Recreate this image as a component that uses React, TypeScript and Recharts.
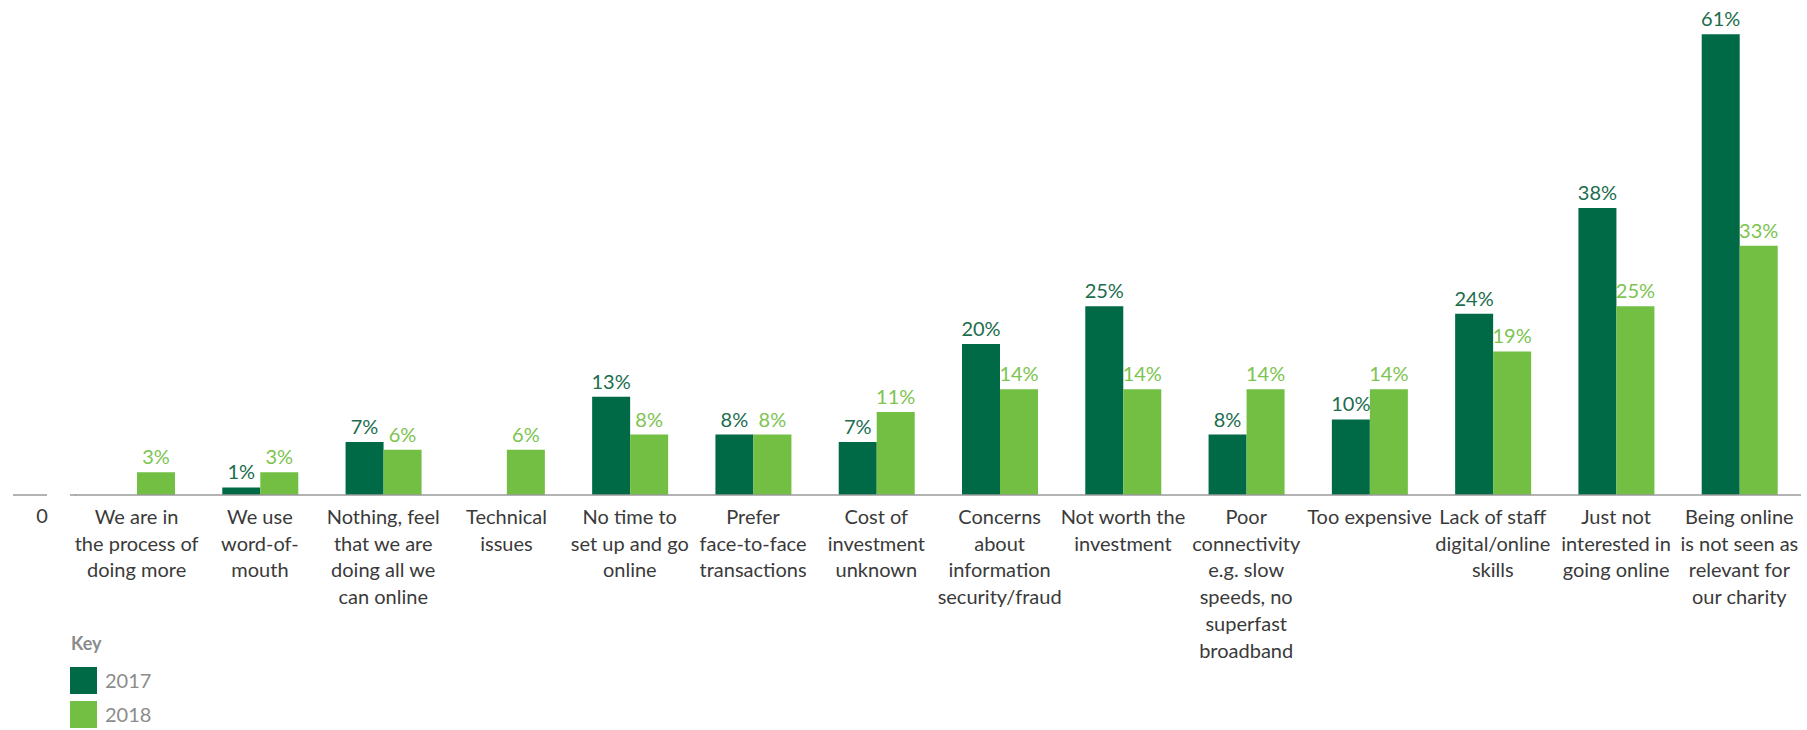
import React from 'react';
import { BarChart, Bar, XAxis, YAxis, LabelList, Legend } from 'recharts';

const categories: string[] = [
  'We are in\nthe process of\ndoing more',
  'We use\nword-of-\nmouth',
  'Nothing, feel\nthat we are\ndoing all we\ncan online',
  'Technical\nissues',
  'No time to\nset up and go\nonline',
  'Prefer\nface-to-face\ntransactions',
  'Cost of\ninvestment\nunknown',
  'Concerns\nabout\ninformation\nsecurity/fraud',
  'Not worth the\ninvestment',
  'Poor\nconnectivity\ne.g. slow\nspeeds, no\nsuperfast\nbroadband',
  'Too expensive',
  'Lack of staff\ndigital/online\nskills',
  'Just not\ninterested in\ngoing online',
  'Being online\nis not seen as\nrelevant for\nour charity',
];

const values2017: (number | null)[] = [null, 1, 7, null, 13, 8, 7, 20, 25, 8, 10, 24, 38, 61];
const values2018: (number | null)[] = [3, 3, 6, 6, 8, 8, 11, 14, 14, 14, 14, 19, 25, 33];

const seriesNames = ['2017', '2018'];
const yTicks = [0];

const DARK = '#006946';
const LIGHT = '#72bf44';
const DARK_LABEL = '#1b6d4e';
const LIGHT_LABEL = '#7cc44f';
const TEXT = '#3a3a3a';
const AXIS = '#9a9a9a';
const FONT = 'Lato, "Open Sans", sans-serif';

const data = categories.map((c, i) => ({
  name: c,
  y2017: values2017[i],
  y2018: values2018[i],
}));

const CategoryTick = (props: any) => {
  const { x, y, payload } = props;
  const lines = String(payload.value).split('\n');
  return (
    <text x={x} y={y} textAnchor="middle" fill={TEXT} fontSize={20} fontFamily={FONT}>
      {lines.map((ln, i) => (
        <tspan key={i} x={x} dy={i === 0 ? 524 - y : 26.7}>
          {ln}
        </tspan>
      ))}
    </text>
  );
};

const ValueTick = (props: any) => {
  const { y, payload } = props;
  return (
    <g>
      <line x1={13} x2={47} y1={y} y2={y} stroke={AXIS} strokeWidth={1.5} />
      <line x1={70} x2={76} y1={y} y2={y} stroke={AXIS} strokeWidth={1.5} />
      <text x={42} y={y + 28} textAnchor="middle" fill={TEXT} fontSize={20} fontFamily={FONT}>
        {payload.value}
      </text>
    </g>
  );
};

const KeyLegend = () => (
  <div style={{ position: 'relative', width: 300, height: 110, fontFamily: FONT }}>
    <div style={{ position: 'absolute', left: 71, top: 12, fontSize: 18, lineHeight: '22px', fontWeight: 700, color: '#8b8b8b' }}>
      Key
    </div>
    {seriesNames.map((n, i) => (
      <React.Fragment key={n}>
        <div style={{ position: 'absolute', left: 70, top: 47 + i * 34, width: 27, height: 27, background: i === 0 ? DARK : LIGHT }} />
        <div style={{ position: 'absolute', left: 105, top: 47 + i * 34, lineHeight: '27px', fontSize: 20, color: '#8c8c8c' }}>
          {n}
        </div>
      </React.Fragment>
    ))}
  </div>
);

const fmt = (v: any) => (v === null || v === undefined ? '' : `${v}%`);

export default function App() {
  return (
    <div style={{ position: 'absolute', left: 0, top: 0, width: 1807, height: 730, background: '#fff', fontFamily: FONT }}>
      <BarChart
        width={1807}
        height={730}
        data={data}
        margin={{ top: 4, right: 6, bottom: 0, left: 0 }}
        barGap={0}
        barSize={38}
      >
        <XAxis
          dataKey="name"
          interval={0}
          height={235}
          tickLine={false}
          axisLine={{ stroke: AXIS, strokeWidth: 1.5 }}
          tick={<CategoryTick />}
        />
        <YAxis
          width={75}
          domain={[0, 65]}
          ticks={yTicks}
          axisLine={false}
          tickLine={false}
          tick={<ValueTick />}
        />
        <Legend
          layout="horizontal"
          verticalAlign="middle"
          align="center"
          content={<KeyLegend />}
          wrapperStyle={{ left: 0, top: 620, width: 300, height: 110 }}
        />
        <Bar dataKey="y2017" name={seriesNames[0]} fill={DARK} isAnimationActive={false}>
          <LabelList dataKey="y2017" position="top" offset={8} fill={DARK_LABEL} fontSize={20} fontFamily={FONT} formatter={fmt} />
        </Bar>
        <Bar dataKey="y2018" name={seriesNames[1]} fill={LIGHT} isAnimationActive={false}>
          <LabelList dataKey="y2018" position="top" offset={8} fill={LIGHT_LABEL} fontSize={20} fontFamily={FONT} formatter={fmt} />
        </Bar>
      </BarChart>
    </div>
  );
}
